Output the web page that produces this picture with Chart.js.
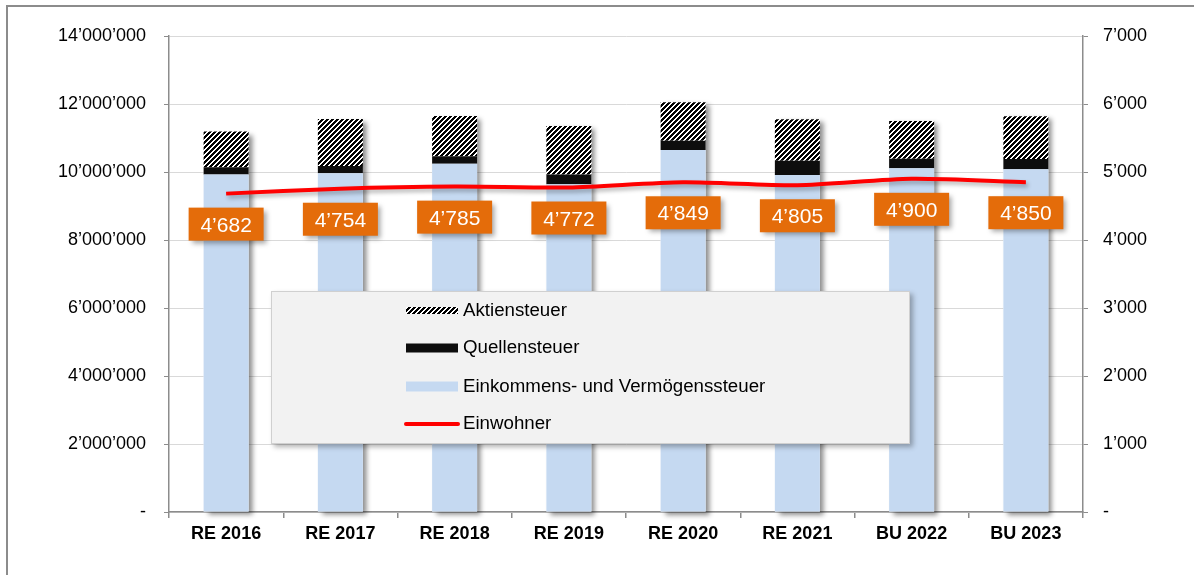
<!DOCTYPE html>
<html>
<head>
<meta charset="utf-8">
<script src="https://cdn.jsdelivr.net/npm/chart.js@4.4.0/dist/chart.umd.min.js"></script>
<style>
  body { margin: 0; background: #fff; }
  #frame { position: absolute; left: 6px; top: 5px; width: 1400px; height: 800px;
           border-top: 2px solid #8c8c8c; border-left: 2px solid #8c8c8c; }
  #chart { position: absolute; left: 0; top: 0; }
</style>
</head>
<body>
<div id="frame"></div>
<canvas id="chart" width="1194" height="575"></canvas>
<script>
const categories = ['RE 2016', 'RE 2017', 'RE 2018', 'RE 2019', 'RE 2020', 'RE 2021', 'BU 2022', 'BU 2023'];
const einkommen = [9930000, 9960000, 10240000, 9640000, 10650000, 9910000, 10110000, 10080000];
const quellen = [210000, 220000, 220000, 290000, 270000, 420000, 280000, 300000];
const aktien = [1050000, 1380000, 1190000, 1420000, 1130000, 1220000, 1110000, 1260000];
const einwohner = [4682, 4754, 4785, 4772, 4849, 4805, 4900, 4850];
const leftTicks = [0, 2000000, 4000000, 6000000, 8000000, 10000000, 12000000, 14000000];
const rightTicks = [0, 1000, 2000, 3000, 4000, 5000, 6000, 7000];

const FONT = "Arial, 'Liberation Sans', sans-serif";
const BLUE = '#C5D9F1';
const BLACK = '#0D0D0D';
const RED = '#FF0000';
const ORANGE = '#E46C0A';

function fmt(v) {
    if (v === 0) return '-';
    return String(v).replace(/\B(?=(\d{3})+(?!\d))/g, '\u2019');
}

// diagonal hatch pattern for Aktiensteuer
function makeHatch() {
    const s = 5;
    const c = document.createElement('canvas');
    c.width = s; c.height = s;
    const g = c.getContext('2d');
    const img = g.createImageData(s, s);
    for (let y = 0; y < s; y++) {
        for (let x = 0; x < s; x++) {
            const on = (x + y) % s < 3;
            const i = (y * s + x) * 4;
            const v = on ? 0 : 255;
            img.data[i] = v; img.data[i + 1] = v; img.data[i + 2] = v; img.data[i + 3] = 255;
        }
    }
    g.putImageData(img, 0, 0);
    return document.getElementById('chart').getContext('2d').createPattern(c, 'repeat');
}
const hatch = makeHatch();

Chart.defaults.font.family = FONT;
Chart.defaults.font.size = 18;
Chart.defaults.color = '#000';

// shadow behind each stacked column
const barShadow = {
    id: 'barShadow',
    beforeDatasetsDraw(chart) {
        const ctx = chart.ctx;
        const bottom = chart.getDatasetMeta(1);
        const top = chart.getDatasetMeta(3);
        ctx.save();
        ctx.shadowColor = 'rgba(0,0,0,0.45)';
        ctx.shadowBlur = 5;
        ctx.shadowOffsetX = 4;
        ctx.shadowOffsetY = 3;
        ctx.fillStyle = '#fff';
        bottom.data.forEach((el, i) => {
            const b = el.getProps(['x', 'base', 'width'], true);
            const t = top.data[i].getProps(['y'], true);
            ctx.fillRect(b.x - b.width / 2, t.y, b.width, b.base - t.y);
        });
        ctx.restore();
    },
    beforeDatasetDraw(chart, args) {
        if (args.index === 0) {
            chart.ctx.save();
            chart.ctx.shadowColor = 'rgba(0,0,0,0.3)';
            chart.ctx.shadowBlur = 4;
            chart.ctx.shadowOffsetX = 2;
            chart.ctx.shadowOffsetY = 3;
        }
    },
    afterDatasetDraw(chart, args) {
        if (args.index === 0) chart.ctx.restore();
    }
};

// orange value boxes below the Einwohner line
const valueBoxes = {
    id: 'valueBoxes',
    afterDatasetsDraw(chart) {
        const ctx = chart.ctx;
        const meta = chart.getDatasetMeta(0);
        ctx.save();
        meta.data.forEach((pt, i) => {
            const cx = pt.x, cy = pt.y + 30.5;
            const w = 75, h = 33;
            ctx.save();
            ctx.shadowColor = 'rgba(0,0,0,0.35)';
            ctx.shadowBlur = 5;
            ctx.shadowOffsetX = 3;
            ctx.shadowOffsetY = 3;
            ctx.fillStyle = ORANGE;
            ctx.fillRect(cx - w / 2, cy - h / 2, w, h);
            ctx.restore();
            ctx.fillStyle = '#fff';
            ctx.font = '21px ' + FONT;
            ctx.textAlign = 'center';
            ctx.textBaseline = 'alphabetic';
            ctx.fillText(fmt(einwohner[i]), cx, cy + 7.5);
        });
        ctx.restore();
    }
};

// legend box inside the plot
const boxLegend = {
    id: 'boxLegend',
    afterDatasetsDraw(chart) {
        const ctx = chart.ctx;
        const ds = chart.data.datasets;
        ctx.save();
        ctx.shadowColor = 'rgba(0,0,0,0.3)';
        ctx.shadowBlur = 5;
        ctx.shadowOffsetX = 3;
        ctx.shadowOffsetY = 3;
        ctx.fillStyle = '#F2F2F2';
        ctx.fillRect(271, 291, 639, 153);
        ctx.restore();
        ctx.save();
        ctx.strokeStyle = '#D0D0D0';
        ctx.lineWidth = 1;
        ctx.strokeRect(271.5, 291.5, 638, 152);

        const rows = [
            { label: ds[3].label, y: 310.5, draw: y => { ctx.fillStyle = hatch; ctx.fillRect(406, y - 3.5, 52, 7); } },
            { label: ds[2].label, y: 348, draw: y => { ctx.fillStyle = BLACK; ctx.fillRect(406, y - 4.5, 52, 9); } },
            { label: ds[1].label, y: 386.5, draw: y => { ctx.fillStyle = BLUE; ctx.fillRect(406, y - 5, 52, 10); } },
            { label: ds[0].label, y: 424, draw: y => {
                ctx.strokeStyle = RED; ctx.lineWidth = 4; ctx.lineCap = 'round';
                ctx.beginPath(); ctx.moveTo(406, y); ctx.lineTo(458, y); ctx.stroke();
            } }
        ];
        rows.forEach(r => {
            r.draw(r.y);
            ctx.fillStyle = '#000';
            ctx.font = '18.7px ' + FONT;
            ctx.textAlign = 'left';
            ctx.textBaseline = 'middle';
            ctx.fillText(r.label, 463, r.y);
        });
        ctx.restore();
    }
};

new Chart(document.getElementById('chart'), {
    type: 'bar',
    data: {
        labels: categories,
        datasets: [
            {
                type: 'line',
                label: 'Einwohner',
                data: einwohner,
                yAxisID: 'y1',
                borderColor: RED,
                borderWidth: 4,
                pointRadius: 0,
                tension: 0.25,
                order: 0
            },
            {
                label: 'Einkommens- und Vermögenssteuer',
                data: einkommen,
                backgroundColor: BLUE,
                yAxisID: 'y',
                order: 1
            },
            {
                label: 'Quellensteuer',
                data: quellen,
                backgroundColor: BLACK,
                yAxisID: 'y',
                order: 1
            },
            {
                label: 'Aktiensteuer',
                data: aktien,
                backgroundColor: hatch,
                yAxisID: 'y',
                order: 1
            }
        ]
    },
    options: {
        responsive: false,
        animation: false,
        categoryPercentage: 1,
        barPercentage: 0.394,
        layout: { padding: { top: 36, left: 0, right: 0, bottom: 0 } },
        plugins: {
            legend: { display: false },
            tooltip: { enabled: false }
        },
        scales: {
            x: {
                stacked: true,
                border: { color: '#8c8c8c', width: 1.5 },
                grid: { offset: true, drawOnChartArea: false, tickLength: 6, tickColor: '#8c8c8c', lineWidth: 1.5 },
                ticks: { font: { weight: 'bold', size: 18 }, padding: 5, maxRotation: 0 },
                afterFit: s => { s.height = 63; }
            },
            y: {
                stacked: true,
                position: 'left',
                min: 0,
                max: 14000000,
                afterBuildTicks: s => { s.ticks = leftTicks.map(v => ({ value: v })); },
                border: { color: '#8c8c8c', width: 1.5 },
                grid: { color: '#D9D9D9', lineWidth: 1, tickLength: 5, tickColor: '#8c8c8c' },
                ticks: { padding: 18, callback: v => fmt(v) },
                afterFit: s => { s.width = 169; }
            },
            y1: {
                position: 'right',
                min: 0,
                max: 7000,
                afterBuildTicks: s => { s.ticks = rightTicks.map(v => ({ value: v })); },
                border: { color: '#8c8c8c', width: 1.5 },
                grid: { drawOnChartArea: false, tickLength: 5, tickColor: '#8c8c8c' },
                ticks: { padding: 15, callback: v => fmt(v) },
                afterFit: s => { s.width = 111; }
            }
        }
    },
    plugins: [barShadow, valueBoxes, boxLegend]
});
</script>
</body>
</html>
